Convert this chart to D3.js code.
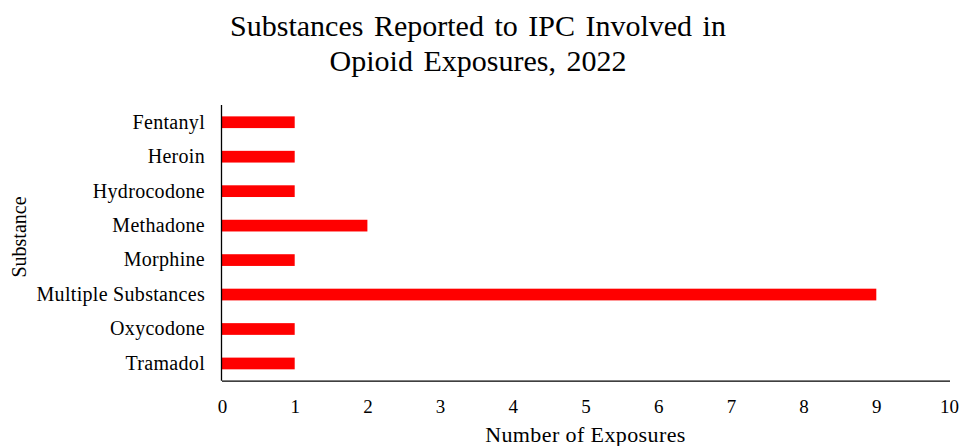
<!DOCTYPE html>
<html>
<head>
<meta charset="utf-8">
<script src="https://cdn.jsdelivr.net/npm/d3@7"></script>
<style>
  html, body { margin: 0; padding: 0; background: #fff; }
  svg { display: block; font-family: "Liberation Serif", "Times New Roman", serif; }
</style>
</head>
<body>
<svg id="chart" width="961" height="446"></svg>
<script>
const categories = ["Fentanyl", "Heroin", "Hydrocodone", "Methadone", "Morphine", "Multiple Substances", "Oxycodone", "Tramadol"];
const values = [1, 1, 1, 2, 1, 9, 1, 1];
const xTicks = [0, 1, 2, 3, 4, 5, 6, 7, 8, 9, 10];
const titleLines = ["Substances Reported to IPC Involved in", "Opioid Exposures, 2022"];
const xAxisTitle = "Number of Exposures";
const yAxisTitle = "Substance";

(function () {
const svg = d3.select("#chart");
const mLeft = 222, mRight = 949, mTop = 105, mBottom = 380.7;

const x = d3.scaleLinear().domain([0, 10]).range([mLeft, mRight]);
const y = d3.scaleBand().domain(categories).range([mTop, mBottom]).paddingInner(0.66).paddingOuter(0.33);

// Title
svg.append("g").selectAll("text").data(titleLines).join("text")
  .attr("x", 478).attr("y", (d, i) => 36 + i * 35)
  .attr("text-anchor", "middle")
  .attr("font-size", 30).attr("word-spacing", 3).attr("fill", "#000")
  .text(d => d);

// Bars
svg.append("g").selectAll("rect").data(categories).join("rect")
  .attr("x", x(0))
  .attr("y", d => y(d))
  .attr("width", (d, i) => x(values[i]) - x(0))
  .attr("height", y.bandwidth())
  .attr("fill", "#ff0000");

// X axis
const xAxis = d3.axisBottom(x).tickValues(xTicks).tickSize(0).tickPadding(19).tickFormat(d3.format("d"));
const gx = svg.append("g").attr("transform", `translate(0,${mBottom})`).call(xAxis);
gx.select(".domain").attr("stroke", "#000").attr("stroke-width", 1.3).attr("d", `M${mLeft},0.5H${mRight + 1}`);
gx.selectAll("text").attr("font-size", 19).attr("font-family", "Liberation Serif, serif").attr("fill", "#000");

// Y axis
const yAxis = d3.axisLeft(y).tickSize(0).tickPadding(17);
const gy = svg.append("g").attr("transform", `translate(${mLeft},0)`).call(yAxis);
gy.select(".domain").attr("stroke", "#000").attr("stroke-width", 1.3).attr("d", `M-0.5,${mTop}V${mBottom}`);
gy.selectAll("text").attr("font-size", 20).attr("letter-spacing", 0.3).attr("font-family", "Liberation Serif, serif").attr("fill", "#000");

// Axis titles
svg.append("text")
  .attr("x", (mLeft + mRight) / 2).attr("y", 442)
  .attr("text-anchor", "middle").attr("font-size", 22).attr("letter-spacing", 0.4).attr("fill", "#000")
  .text(xAxisTitle);

svg.append("text")
  .attr("transform", `translate(26,237) rotate(-90)`)
  .attr("text-anchor", "middle").attr("font-size", 20).attr("fill", "#000")
  .text(yAxisTitle);
})();
</script>
</body>
</html>
